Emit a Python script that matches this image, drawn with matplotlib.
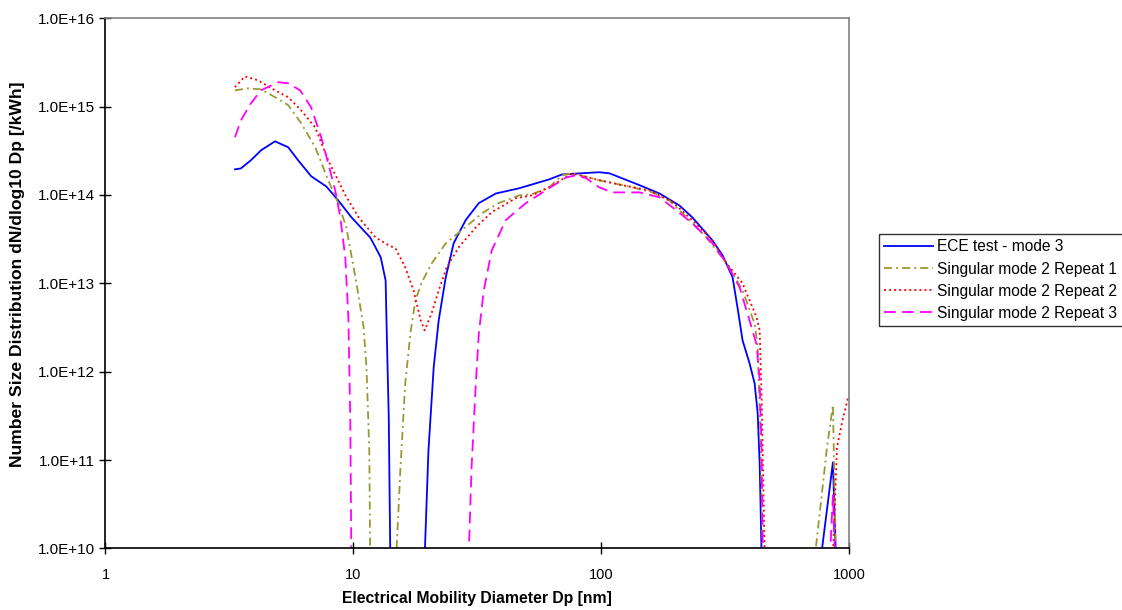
import matplotlib
matplotlib.use("Agg")
import matplotlib.pyplot as plt
from matplotlib.ticker import FixedLocator, FuncFormatter, NullLocator

plt.rcParams["font.family"] = ["Liberation Sans", "DejaVu Sans"]

# values below 1e10 mark channels where the curve drops off the axis
FLOOR = 8e9

ece_dp = [3.33, 3.52, 3.86, 4.24, 4.83, 5.46, 5.99, 6.76, 7.78, 8.69, 9.82, 11.7, 12.0,
          12.9, 13.5, 13.6, 13.9, 14.1, 19.4, 20.1, 21.1, 22.1, 23.6, 25.4, 28.4, 32.1,
          37.6, 46.6, 61.6, 69.5, 98.2, 108, 143, 172, 207, 233, 281, 309, 339, 355,
          372, 397, 416, 428, 436, 444, 771, 861, 885]
ece_dn = [1.95e14, 2.0e14, 2.47e14, 3.2e14, 4.05e14, 3.47e14, 2.47e14, 1.63e14, 1.25e14,
          8.7e13, 5.6e13, 3.3e13, 2.9e13, 1.97e13, 1.08e13, 4.1e12, 3.0e11, FLOOR, FLOOR,
          1.29e11, 1.12e12, 3.8e12, 1.17e13, 2.84e13, 5.2e13, 8.1e13, 1.04e14, 1.19e14,
          1.5e14, 1.71e14, 1.81e14, 1.76e14, 1.29e14, 1.04e14, 7.6e13, 5.6e13, 3.07e13,
          2.07e13, 1.17e13, 5.3e12, 2.26e12, 1.24e12, 7.4e11, 3.4e11, 9.2e10, FLOOR,
          FLOOR, 9.4e10, FLOOR]

rep1_dp = [3.33, 3.76, 4.24, 4.83, 5.46, 6.16, 7.02, 7.92, 8.69, 9.37, 10.3, 11.0, 11.3,
           11.6, 11.7, 14.9, 15.5, 16.2, 17.0, 17.8, 18.8, 20.7, 23.6, 27.4, 33.0, 38.6,
           46.6, 52.6, 61.6, 69.5, 76.3, 98.2, 134, 161, 188, 221, 266, 321, 372, 416,
           428, 440, 449, 728, 815, 861, 885]
rep1_dn = [1.53e15, 1.61e15, 1.57e15, 1.28e15, 1.04e15, 6.5e14, 3.47e14, 1.47e14, 8.1e13,
           4.3e13, 1.0e13, 3.2e12, 1.12e12, 1.29e11, FLOOR, FLOOR, 8.3e10, 7.4e11, 2.72e12,
           6.4e12, 1.0e13, 1.68e13, 2.84e13, 4.0e13, 6.2e13, 8.1e13, 9.9e13, 1.02e14,
           1.22e14, 1.67e14, 1.76e14, 1.47e14, 1.22e14, 1.07e14, 8.7e13, 5.6e13, 3.3e13,
           1.68e13, 8.3e12, 3.5e12, 1.88e12, 1.67e11, FLOOR, FLOOR, 1.39e11, 4.2e11, FLOOR]

rep2_dp = [3.33, 3.65, 4.12, 4.83, 5.46, 6.16, 7.02, 7.92, 9.28, 10.5, 12.3, 13.9, 14.8,
           16.2, 17.5, 18.7, 19.4, 20.7, 22.1, 23.8, 26.6, 31.2, 36.2, 45.3, 52.6, 61.6,
           76.3, 98.2, 122, 156, 194, 233, 281, 321, 372, 424, 436, 444, 457, 861, 894,
           946, 991, 1000]
rep2_dn = [1.66e15, 2.2e15, 1.99e15, 1.53e15, 1.28e15, 9.1e14, 5.8e14, 2.47e14, 1.0e14,
           5.6e13, 3.3e13, 2.69e13, 2.49e13, 1.52e13, 8.3e12, 3.8e12, 2.94e12, 4.6e12,
           8.3e12, 1.52e13, 2.55e13, 4.3e13, 6.4e13, 9.2e13, 9.9e13, 1.22e14, 1.76e14,
           1.47e14, 1.29e14, 1.13e14, 8.3e13, 5.2e13, 3.07e13, 1.68e13, 1.0e13, 4.1e12,
           2.94e12, 5.1e11, FLOOR, FLOOR, 1.39e11, 3.0e11, 5.1e11, 5.3e11]

rep3_dp = [3.33, 3.52, 3.86, 4.24, 4.97, 5.46, 6.10, 6.76, 7.42, 7.92, 8.45, 8.86, 9.28,
           9.55, 9.72, 9.82, 29.2, 30.0, 31.2, 32.1, 33.6, 36.2, 41.2, 49.7, 61.6, 72.2,
           79.2, 86.9, 98.2, 111, 143, 172, 201, 233, 281, 321, 362, 397, 424, 436, 444,
           449, 838, 861, 877]
rep3_dn = [4.5e14, 7.0e14, 1.09e15, 1.53e15, 1.89e15, 1.84e15, 1.53e15, 9.8e14, 4.5e14,
           2.28e14, 1.13e14, 5.6e13, 1.97e13, 4.1e12, 3.0e11, FLOOR, FLOOR, 8.3e10, 7.4e11,
           2.72e12, 8.3e12, 2.37e13, 5.2e13, 8.1e13, 1.19e14, 1.58e14, 1.67e14, 1.55e14,
           1.22e14, 1.07e14, 1.07e14, 9.4e13, 6.7e13, 4.8e13, 2.84e13, 1.68e13, 9.0e12,
           3.8e12, 2.0e12, 8.0e11, 1.29e11, FLOOR, FLOOR, 4.0e10, FLOOR]

labels = ["ECE test - mode 3", "Singular mode 2 Repeat 1",
          "Singular mode 2 Repeat 2", "Singular mode 2 Repeat 3"]
x_ticks = [1, 10, 100, 1000]
y_ticks = [1e10, 1e11, 1e12, 1e13, 1e14, 1e15, 1e16]

fig = plt.figure(figsize=(11.22, 6.10), dpi=100)
ax = fig.add_axes([0.094, 0.101, 0.6627, 0.869])

lw = 1.3
ax.plot(ece_dp, ece_dn, color="#0000ff", lw=lw, label=labels[0])
ax.plot(rep1_dp, rep1_dn, color="#999933", lw=lw, dashes=(4.5, 2.2, 1.1, 2.2), label=labels[1])
ax.plot(rep2_dp, rep2_dn, color="#ff0000", lw=lw, dashes=(1.1, 1.7), label=labels[2])
ax.plot(rep3_dp, rep3_dn, color="#ff00ff", lw=lw, dashes=(6.5, 3.5), label=labels[3])

ax.set_xscale("log")
ax.set_yscale("log")
ax.set_xlim(1, 1000)
ax.set_ylim(1e10, 1e16)

ax.xaxis.set_major_locator(FixedLocator(x_ticks))
ax.xaxis.set_minor_locator(NullLocator())
ax.yaxis.set_major_locator(FixedLocator(y_ticks))
ax.yaxis.set_minor_locator(NullLocator())
ax.xaxis.set_major_formatter(FuncFormatter(lambda v, p: "%g" % v))
ax.yaxis.set_major_formatter(FuncFormatter(lambda v, p: "%.1E" % v))
ax.tick_params(axis="both", direction="inout", length=9, width=1, color="black")
ax.tick_params(axis="y", labelsize=11, pad=3)
ax.tick_params(axis="x", labelsize=10.5, pad=9.5)

for side in ["left", "bottom"]:
    ax.spines[side].set_color("black")
    ax.spines[side].set_linewidth(1.2)
for side in ["top", "right"]:
    ax.spines[side].set_color("#808080")
    ax.spines[side].set_linewidth(1.2)

fig.text(477 / 1122, 1 - 598 / 610, "Electrical Mobility Diameter Dp [nm]",
         fontsize=11.3, fontweight="bold", ha="center", va="center")
fig.text(18 / 1122, 1 - 274 / 610, "Number Size Distribution dN/dlog10 Dp [/kWh]",
         fontsize=12.6, fontweight="bold", ha="center", va="center", rotation=90)

leg = fig.legend(loc="upper left", bbox_to_anchor=(0.7834, 0.6164), fontsize=11.2,
                 frameon=True, fancybox=False, shadow=False, handlelength=3.1,
                 handletextpad=0.3, labelspacing=0.46, borderpad=0.35, borderaxespad=0)
leg.get_frame().set_edgecolor("black")
leg.get_frame().set_linewidth(1.0)

fig.savefig("out.png", dpi=100)
